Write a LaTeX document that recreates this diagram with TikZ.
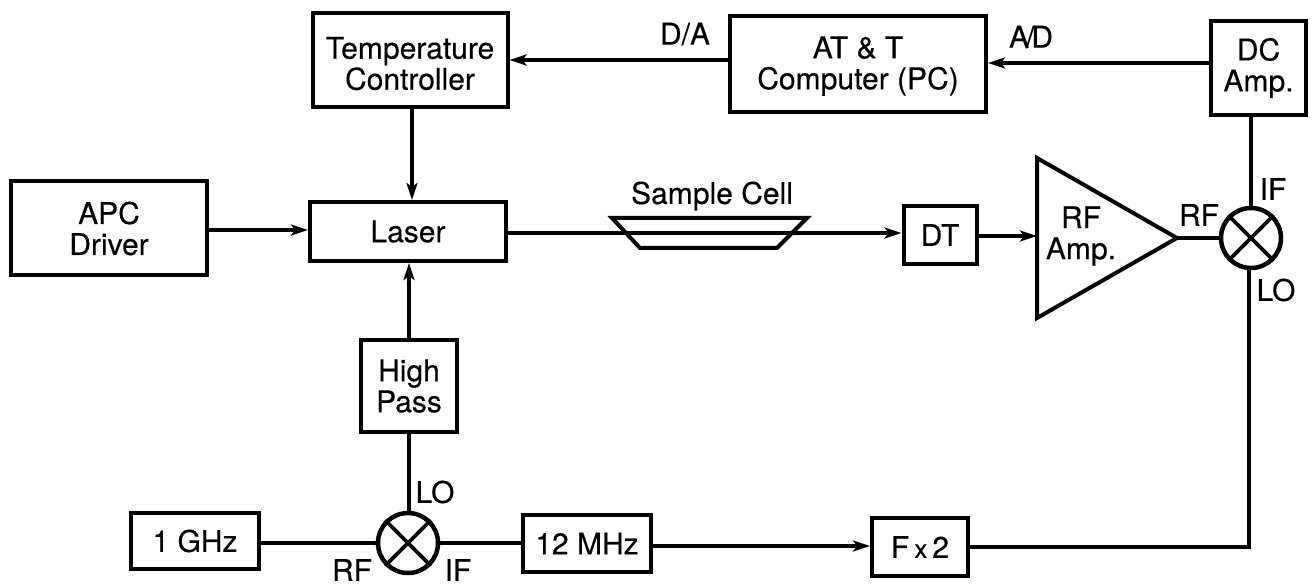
\documentclass[tikz,border=0pt]{standalone}
\usepackage{fontspec}
\setmainfont[FakeBold=0.3]{TeX Gyre Heros}
\usetikzlibrary{arrows.meta}
\tikzset{
  blk/.style={draw=black,line width=4pt,fill=white,align=center,inner sep=0pt,font=\fontsize{30}{31}\selectfont},
  lbl/.style={inner sep=0pt,font=\fontsize{30}{31}\selectfont},
  wire/.style={line width=3.4pt,draw=black},
  arr/.style={wire,-{Stealth[length=17pt,width=11pt,inset=4pt]}},
  mix/.style={draw=black,line width=4.5pt,circle,inner sep=0pt,minimum size=60pt,fill=white},
  outline/.style={draw=black,line width=4pt,line join=miter}
}
\begin{document}
\begin{tikzpicture}[x=1pt,y=-1pt]
\useasboundingbox (0,0) rectangle (1315,585);
\fill[white] (0,0) rectangle (1315,585);
\node[blk,minimum width=195pt,minimum height=94pt] (temp) at (410,60) {\rule{0pt}{29pt}Temperature\\Controller};
\node[blk,minimum width=256pt,minimum height=96pt] (pc) at (858,64) {\rule{0pt}{26pt}AT \& T\\Computer (PC)};
\node[blk,minimum width=95pt,minimum height=94pt] (dc) at (1258.5,68) {DC\\Amp.};
\node[blk,minimum width=196pt,minimum height=94pt] (apc) at (109,228.5) {APC\\Driver};
\node[blk,minimum width=196pt,minimum height=59pt] (laser) at (408,231.5) {Laser};
\node[blk,minimum width=73pt,minimum height=58pt] (dt) at (940,235) {DT};
\node[blk,minimum width=96pt,minimum height=92pt] (hp) at (409,386) {High\\Pass};
\node[blk,minimum width=128pt,minimum height=56pt] (ghz) at (195,541) {1 GHz};
\node[blk,minimum width=128pt,minimum height=57pt] (mhz) at (587,543.5) {12 MHz};
\node[blk,minimum width=96pt,minimum height=58pt] (fx) at (920,547) {F\,{\fontsize{26}{26}\selectfont x}\,2};
\node[mix] (m1) at (1251,238) {};
\node[mix] (m2) at (408,543) {};
\foreach \m in {m1,m2}{
  \draw[line width=3.8pt] (\m.45) -- (\m.225);
  \draw[line width=3.8pt] (\m.135) -- (\m.315);
}
% RF amplifier
\coordinate (ampin) at (1037,236);
\coordinate (ampout) at (1177,238);
\draw[outline] (1037,158) -- (ampout) -- (1037,318) -- cycle;
\node[lbl,align=center] (rfamp) at (1081,236) {RF\\Amp.};
% Sample cell
\coordinate (cellin) at (620,233);
\coordinate (cellout) at (800,233);
\draw[outline] (612,218) -- (807,218) -- (777,248) -- (640,248) -- cycle;
\node[lbl] (cell) at (712,196) {Sample Cell};
% connectors
\coordinate (da) at (729,60);
\coordinate (adr) at (1211,63);
\coordinate (toptemp) at (412,108);
\draw[arr] (da) -- (temp.east |- da);
\draw[arr] (adr) -- (pc.east |- adr);
\draw[arr] (toptemp) -- (laser.north -| toptemp);
\draw[arr] (apc.east |- 0,230) -- (laser.west |- 0,230);
\draw[wire] (laser.east |- cellin) -- (cellin) -- (cellout);
\draw[arr] (cellout) -- (dt.west |- cellout);
\draw[arr] (dt.east |- ampin) -- (ampin);
\draw[wire] (ampout) -- (m1.west);
\draw[wire,line width=4.5pt] (dc.south -| m1.north) -- (m1.north);
\coordinate (mright) at (1249,547);
\draw[wire] (m1.south -| mright) -- (mright) -- (fx.east);
\draw[arr] (hp.north) -- (laser.south -| hp.north);
\draw[wire] (m2.north -| hp.south) -- (hp.south);
\draw[wire] (ghz.east |- m2.west) -- (m2.west);
\draw[wire] (m2.east) -- (mhz.west |- m2.east);
\draw[arr] (mhz.east |- 0,546) -- (fx.west |- 0,546);
% port labels
\node[lbl] (dalbl) at (685,34) {D/A};
\node[lbl] (adlbl) at (1031,37) {A\kern-3pt/\kern-3pt D};
\node[lbl] (if1) at (1273,189) {IF};
\node[lbl] (rf1) at (1199,215) {RF};
\node[lbl] (lo1) at (1276,290) {LO};
\node[lbl] (lo2) at (435,492) {LO};
\node[lbl] (rf2) at (352,570) {RF};
\node[lbl] (if2) at (458,570) {IF};
\end{tikzpicture}
\end{document}
